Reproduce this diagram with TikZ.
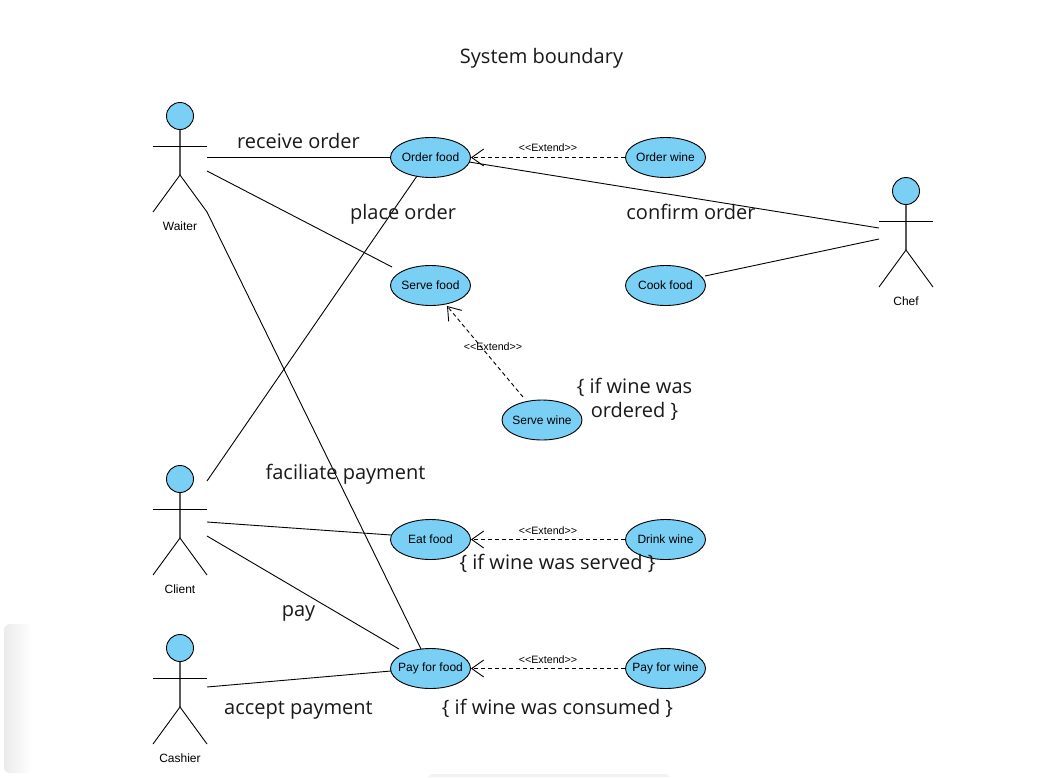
\documentclass[tikz,border=0pt]{standalone}
\usepackage{fontspec}
\setmainfont{Liberation Sans}
\newfontfamily\labelfont{Open Sans}
\usetikzlibrary{arrows.meta,shapes.geometric}
\definecolor{ucblue}{HTML}{7ACFF5}
\newcommand{\uctext}[1]{\makebox[0pt][c]{#1}}
\tikzset{
  x=1pt,y=-1pt,
  usecase/.style={draw=black,fill=ucblue,ellipse,minimum width=80pt,minimum height=40pt,inner sep=0pt,line width=0.9pt,font=\fontsize{12}{14}\selectfont},
  actorhead/.style={draw=black,fill=ucblue,circle,minimum size=27pt,inner sep=0pt,line width=0.9pt},
  actorname/.style={font=\fontsize{12}{14}\selectfont,inner sep=0pt},
  limb/.style={line width=0.9pt,black},
  spine/.style={line width=1.1pt,black!65},
  assoc/.style={line width=0.9pt,black},
  ext/.style={line width=0.9pt,black,dash pattern=on 4pt off 3pt,-{Straight Barb[length=12pt,width=17pt,line width=0.9pt]}},
  exttext/.style={font=\fontsize{10.7}{12}\selectfont,inner sep=0pt},
  note/.style={font=\labelfont\fontsize{20}{24}\selectfont,inner sep=0pt,text=black!90,align=center,text height=15pt,text depth=0pt},
}
\newcommand{\actor}[3]{% name, x, top y
  \node[actorhead] (#1head) at (#2,#3+14) {};
  \coordinate (#1neck) at (#2,#3+28);
  \coordinate (#1hip) at (#2,#3+73);
  \coordinate (#1al) at (#2-27,#3+44);
  \coordinate (#1ar) at (#2+27,#3+44);
  \coordinate (#1fl) at (#2-27,#3+110);
  \coordinate (#1fr) at (#2+27,#3+110);
  \draw[spine] (#1neck) -- (#1hip);
  \draw[limb] (#1al) -- (#1ar);
  \draw[limb] (#1fl) -- (#1hip) -- (#1fr);
}
\begin{document}
\begin{tikzpicture}
\useasboundingbox (0,0) rectangle (1054,777);
\fill[white] (0,0) rectangle (1054,777);
% page furniture at the edges
\shade[left color=black!8,right color=white,rounded corners=6pt] (4,624) rectangle (32,773);
\fill[black!5] (428,777) -- (432,774) -- (666,774) -- (670,777) -- cycle;

\actor{waiter}{180}{102}
\actor{client}{180}{465}
\actor{cashier}{180}{634}
\actor{chef}{906}{177}
\node[actorname] (waitername) at (180,226) {Waiter};
\node[actorname] (clientname) at (180,589) {Client};
\node[actorname] (cashiername) at (180,758) {Cashier};
\node[actorname] (chefname) at (906,301) {Chef};

\node[usecase] (orderfood) at (430.5,157.5) {\uctext{Order food}};
\node[usecase] (orderwine) at (665.5,157.5) {\uctext{Order wine}};
\node[usecase] (servefood) at (430.5,285.5) {\uctext{Serve food}};
\node[usecase] (cookfood) at (665.5,285.5) {\uctext{Cook food}};
\node[usecase] (servewine) at (542,420) {\uctext{Serve wine}};
\node[usecase] (eatfood) at (430.5,539.5) {\uctext{Eat food}};
\node[usecase] (drinkwine) at (665.5,539.5) {\uctext{Drink wine}};
\node[usecase] (payfood) at (430.5,668.5) {\uctext{Pay for food}};
\node[usecase] (paywine) at (665.5,668.5) {\uctext{Pay for wine}};

\coordinate (w1) at (207,157.5);
\coordinate (w2) at (207,171);
\coordinate (w3) at (207,212);
\coordinate (c1) at (207,481);
\coordinate (c2) at (207,522);
\coordinate (c3) at (207,536);
\coordinate (k1) at (207,687);
\coordinate (f1) at (879,228);
\coordinate (f2) at (879,239);
\coordinate (sf) at (392,267);
\coordinate (pf1) at (399,649);
\coordinate (pf2) at (421,649);
\coordinate (of1) at (417,176);
\coordinate (of2) at (469,162);
\coordinate (cf) at (705,276);
\coordinate (ef) at (391,535);
\coordinate (pf3) at (391,671);
\coordinate (sw) at (523,397);
\coordinate (sfa) at (447,306);

\draw[assoc] (w1) -- (orderfood.west);
\draw[assoc] (w2) -- (sf);
\draw[assoc] (w3) -- (pf2);
\draw[assoc] (c1) -- (of1);
\draw[assoc] (c2) -- (ef);
\draw[assoc] (c3) -- (pf1);
\draw[assoc] (k1) -- (pf3);
\draw[assoc] (of2) -- (f1);
\draw[assoc] (cf) -- (f2);

\draw[ext] (orderwine.west) -- (orderfood.east);
\draw[ext] (drinkwine.west) -- (eatfood.east);
\draw[ext] (paywine.west) -- (payfood.east);
\draw[ext] (sw) -- (sfa);

\node[exttext] (e1) at (548,147.5) {<{}<Extend>{}>};
\node[exttext] (e2) at (493,346.5) {<{}<Extend>{}>};
\node[exttext] (e3) at (548,530.5) {<{}<Extend>{}>};
\node[exttext] (e4) at (548,659.5) {<{}<Extend>{}>};

\node[note] (t0) at (541.5,56) {System boundary};
\node[note] (t1) at (298.5,141) {receive order};
\node[note] (t2) at (403,212) {place order};
\node[note] (t3) at (691,212) {confirm order};
\node[note] (t4) at (634.5,410) {\{ if wine was\\ordered \}};
\node[note] (t5) at (345.5,472) {faciliate payment};
\node[note] (t6) at (557.5,562) {\{ if wine was served \}};
\node[note] (t7) at (298.5,609) {pay};
\node[note] (t8) at (298.5,707) {accept payment};
\node[note] (t9) at (557.5,707) {\{ if wine was consumed \}};
\end{tikzpicture}
\end{document}
